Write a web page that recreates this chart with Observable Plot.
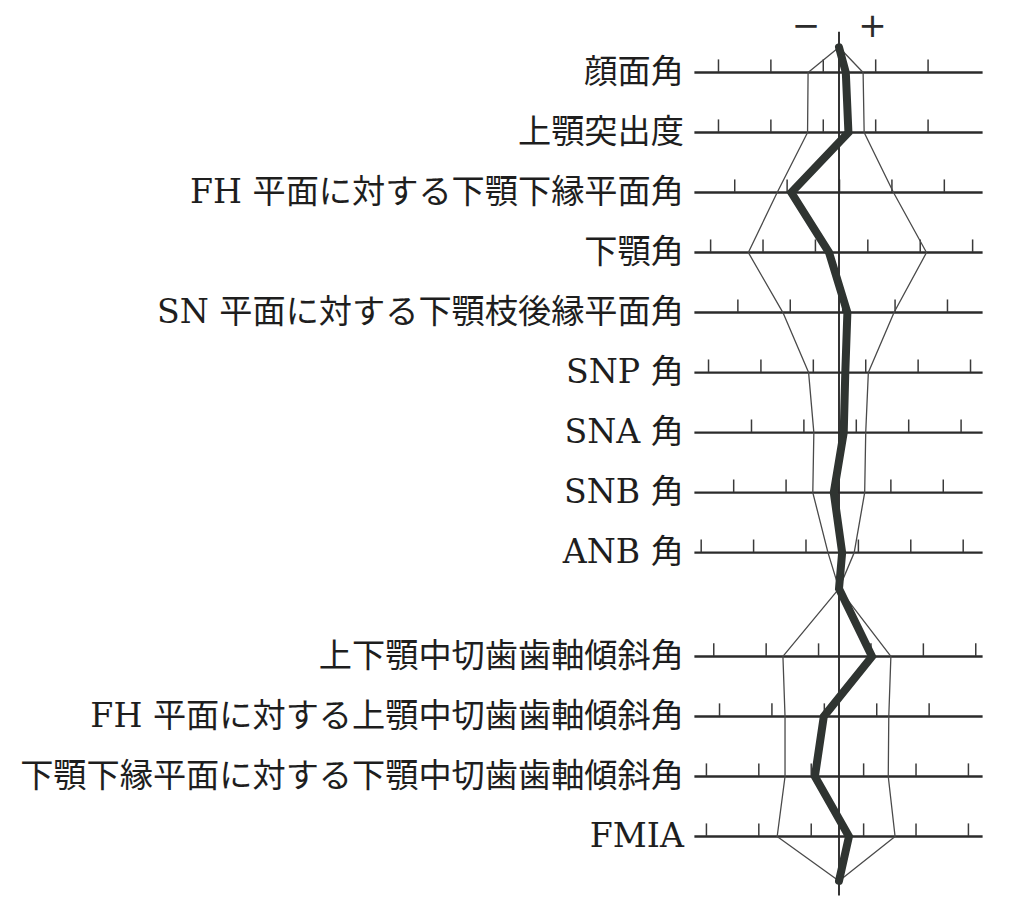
<!DOCTYPE html>
<html>
<head>
<meta charset="utf-8">
<script src="https://cdn.jsdelivr.net/npm/d3@7"></script>
<script src="https://cdn.jsdelivr.net/npm/@observablehq/plot@0.6"></script>
<style>
  html, body { margin: 0; padding: 0; background: #fff; }
  #chart svg { display: block; }
</style>
</head>
<body>
<div id="chart"></div>
<script>
// Measurement names (top to bottom)
const labels = [
  "顔面角",
  "上顎突出度",
  "FH 平面に対する下顎下縁平面角",
  "下顎角",
  "SN 平面に対する下顎枝後縁平面角",
  "SNP 角",
  "SNA 角",
  "SNB 角",
  "ANB 角",
  "上下顎中切歯歯軸傾斜角",
  "FH 平面に対する上顎中切歯歯軸傾斜角",
  "下顎下縁平面に対する下顎中切歯歯軸傾斜角",
  "FMIA"
];
// Block each measurement belongs to (0 = skeletal, 1 = dental)
const group = [0, 0, 0, 0, 0, 0, 0, 0, 0, 1, 1, 1, 1];
// Values in scale-tick units, relative to the norm (mean = 0)
const sdLow   = [-0.59, -0.60, -1.18, -1.73, -1.07, -0.58, -0.48, -0.50, -0.21, -1.07, -1.03, -1.03, -1.18];
const sdHigh  = [ 0.46,  0.48,  1.04,  1.67,  1.05,  0.56,  0.51,  0.49,  0.29,  0.99,  0.95,  0.94,  1.07];
const patient = [ 0.13,  0.18, -0.91, -0.19,  0.16,  0.12,  0.09, -0.10,  0.06,  0.63, -0.29, -0.46,  0.19];
// Offset of each row's scale ticks from the norm (ticks repeat every 1 unit)
const tickPhase = [-0.30, -0.30, 0.01, 0.55, 0.07, 0.51, 0.33, -0.01, 0.37, 0.61, 0.72, 0.47, 0.47];
const signLabels = ["−", "+"];

// ---- layout (not data) ----
const GAP = 0.73;          // extra space between the two blocks (row units)
const XMAX = 2.75;         // half length of each row's scale line
const TICKMAX = 2.65;      // ticks drawn inside this range
const TICKH = 0.21;        // tick height (row units)

const rows = labels.map((name, i) => ({
  name, group: group[i], pos: i + group[i] * GAP,
  lo: sdLow[i], hi: sdHigh[i], p: patient[i], phase: tickPhase[i]
}));
const topApex = -0.42, junction = 8.6, bottomApex = rows[rows.length - 1].pos + 0.74;
const upper = rows.filter(r => r.group === 0), lower = rows.filter(r => r.group === 1);

function path(key) {
  return [
    {x: 0, y: topApex},
    ...upper.map(r => ({x: r[key], y: r.pos})),
    {x: 0, y: junction},
    ...lower.map(r => ({x: r[key], y: r.pos})),
    {x: 0, y: bottomApex}
  ];
}

const ticks = rows.flatMap(r =>
  d3.range(-3, 4).map(k => ({x: r.phase + k, y: r.pos})).filter(t => Math.abs(t.x) <= TICKMAX)
);

const serif = "'DejaVu Serif', 'Noto Sans CJK JP', serif";

const chart = Plot.plot({
  width: 1024,
  height: 908,
  margin: 0,
  x: {domain: [-XMAX, XMAX], range: [694.4, 982.6], axis: null},
  y: {domain: [0, 12.73], range: [72, 836], axis: null},
  style: {background: "#fff"},
  marks: [
    Plot.ruleY(rows, {y: "pos", x1: -XMAX, x2: XMAX, stroke: "#2b2b2b", strokeWidth: 2.4}),
    Plot.ruleX(ticks, {x: "x", y1: "y", y2: d => d.y - TICKH, stroke: "#3a3a3a", strokeWidth: 1.5}),
    Plot.ruleX([0], {y1: -0.67, y2: 13.72, stroke: "#2b2b2b", strokeWidth: 1.9}),
    Plot.line(path("lo"), {x: "x", y: "y", stroke: "#4a4a4a", strokeWidth: 1.3}),
    Plot.line(path("hi"), {x: "x", y: "y", stroke: "#4a4a4a", strokeWidth: 1.3}),
    Plot.line(path("p"), {x: "x", y: "y", stroke: "#2f3431", strokeWidth: 8, strokeLinejoin: "miter", strokeMiterlimit: 4}),
    Plot.text(rows, {x: -XMAX, y: "pos", text: "name", textAnchor: "end", dx: -11,
      fontSize: 33.2, fontFamily: serif, fill: "#1e1e1e"}),
    Plot.text(signLabels, {x: (d, i) => i === 0 ? -0.63 : 0.64, y: -0.78, text: d => d,
      fontSize: 34, fontFamily: "'DejaVu Sans', sans-serif", fill: "#2b2b2b"})
  ]
});
document.getElementById("chart").appendChild(chart);
</script>
</body>
</html>
